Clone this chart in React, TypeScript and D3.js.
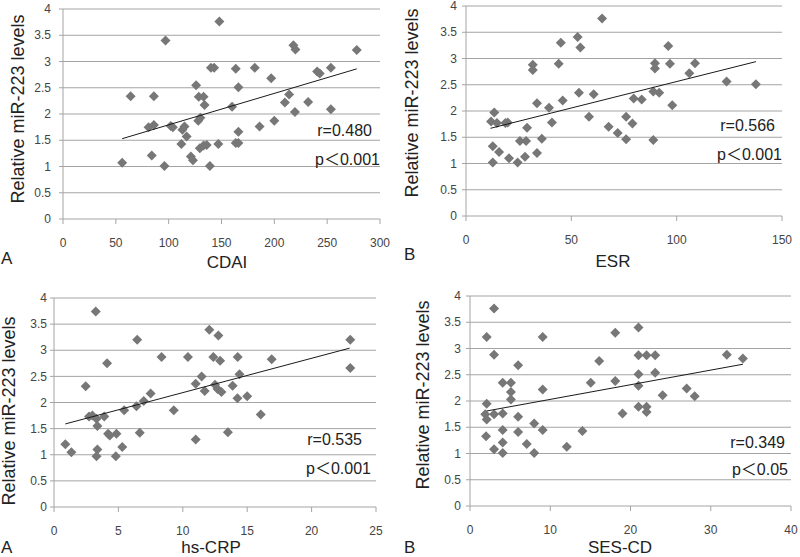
import React from "react";
import * as d3 from "d3";

// ---------- DATA ----------
const yTicks = [0, 0.5, 1, 1.5, 2, 2.5, 3, 3.5, 4];

const cdaiTicks = [0, 50, 100, 150, 200, 250, 300];
const cdaiX = [56, 64, 97, 148, 81, 86, 86, 84, 96, 102, 104, 113, 115, 112, 117, 121, 123, 126, 128.5, 133, 134, 128, 130, 129.5, 133, 136, 139, 140, 143, 147, 160, 163.5, 166, 163.5, 166, 166, 181.5, 186, 197, 200, 210, 214, 218, 220, 219.5, 232, 240.5, 243, 253.5, 253.5, 278];
const cdaiY = [1.07, 2.34, 3.40, 3.76, 1.75, 1.79, 2.34, 1.21, 1.01, 1.77, 1.75, 1.70, 1.76, 1.43, 1.57, 1.19, 1.12, 2.55, 2.33, 2.33, 2.17, 1.87, 1.93, 1.35, 1.40, 1.41, 1.01, 2.88, 2.88, 1.43, 2.14, 2.86, 2.51, 1.45, 1.45, 1.66, 2.88, 1.76, 2.68, 1.87, 2.22, 2.37, 3.31, 3.23, 2.04, 2.23, 2.81, 2.77, 2.09, 2.88, 3.22];
const cdaiTrend = [[56, 1.53], [278, 2.86]];

const esrTicks = [0, 50, 100, 150];
const esrX = [11.9, 13.4, 14.7, 12.7, 12.7, 15.7, 18.7, 19.8, 20.4, 24.5, 25.6, 28.5, 29, 28, 31.7, 31.7, 33.7, 33.7, 36, 39.4, 40.8, 44, 45, 45.9, 53, 54.3, 53.6, 58.4, 60.6, 64.6, 67.7, 72, 76, 76, 79, 79.6, 83.4, 88.9, 91.7, 89.7, 89.7, 88.9, 96, 96.8, 97.9, 106, 108.7, 123.7, 137.6];
const esrY = [1.80, 1.97, 1.77, 1.33, 1.02, 1.22, 1.77, 1.78, 1.10, 1.02, 1.43, 1.43, 1.68, 1.13, 2.88, 2.78, 2.15, 1.20, 1.47, 2.06, 1.78, 2.90, 3.30, 2.20, 3.41, 3.21, 2.35, 1.89, 2.32, 3.76, 1.70, 1.58, 1.89, 1.46, 1.76, 2.24, 2.22, 2.37, 2.35, 2.91, 2.81, 1.45, 3.24, 2.90, 2.11, 2.72, 2.91, 2.56, 2.51];
const esrTrend = [[11.6, 1.67], [137.6, 2.94]];

const crpTicks = [0, 5, 10, 15, 20, 25];
const crpX = [0.88, 1.35, 2.46, 3.24, 2.72, 2.98, 3.3, 3.37, 3.37, 3.3, 3.9, 4.12, 4.2, 4.33, 4.85, 4.8, 5.3, 5.45, 6.4, 6.46, 6.66, 6.97, 7.5, 8.35, 9.3, 10.4, 11.0, 11.0, 11.46, 11.7, 12.06, 12.37, 12.5, 12.76, 12.7, 12.9, 13.0, 13.5, 13.87, 14.26, 14.24, 14.4, 15.0, 16.05, 16.9, 23.0, 23.0];
const crpY = [1.20, 1.05, 2.31, 3.74, 1.73, 1.75, 1.69, 1.55, 1.10, 0.97, 1.73, 2.75, 1.40, 1.37, 1.40, 0.97, 1.15, 1.85, 1.93, 3.20, 1.42, 2.03, 2.17, 2.87, 1.85, 2.87, 1.29, 2.36, 2.50, 2.22, 3.39, 2.87, 2.34, 3.28, 2.26, 2.80, 2.20, 1.43, 2.32, 2.87, 2.08, 2.54, 2.12, 1.77, 2.83, 3.20, 2.66];
const crpTrend = [[0.88, 1.59], [22.95, 3.04]];

const sesTicks = [0, 10, 20, 30, 40];
const sesX = [2.08, 2.08, 1.9, 2.08, 2.0, 3.0, 3.0, 3.0, 3.0, 4.07, 4.07, 4.07, 4.07, 4.07, 5.1, 5.1, 5.1, 6.0, 6.0, 6.0, 7.07, 8.0, 8.0, 9.06, 9.06, 9.06, 12.06, 14.0, 15.05, 16.1, 18.1, 18.1, 19.0, 21.0, 21.0, 21.0, 21.0, 21.0, 22.0, 22.0, 22.0, 23.08, 23.08, 24.0, 27, 28, 32, 34];
const sesY = [3.22, 1.95, 1.75, 1.65, 1.33, 3.76, 2.88, 1.75, 1.08, 2.35, 1.76, 1.45, 1.21, 1.01, 2.35, 2.17, 2.03, 2.68, 1.70, 1.41, 1.18, 1.57, 1.01, 3.22, 2.22, 1.45, 1.13, 1.43, 2.35, 2.76, 3.30, 2.38, 1.76, 3.40, 2.87, 2.51, 2.29, 1.89, 2.87, 1.89, 1.79, 2.87, 2.54, 2.11, 2.24, 2.09, 2.88, 2.81];
const sesTrend = [[2.08, 1.81], [34, 2.70]];

const yTitle = "Relative miR-223 levels";

// ---------- LAYOUT ----------
type PanelCfg = {
  xs: number[]; ys: number[]; trend: number[][]; xTicks: number[];
  xTitle: string; letter: string; r: string; p: string;
  left: number; right: number; top: number; bottom: number;
  yGap: number; xTitleX: number; xTitleY: number; letterX: number; letterY: number;
  yTitleX: number; yTitleY: number;
  rX: number; rY: number; pX: number; pY: number;
};

const panels: PanelCfg[] = [
  { xs: cdaiX, ys: cdaiY, trend: cdaiTrend, xTicks: cdaiTicks, xTitle: "CDAI", letter: "A", r: "r=0.480", p: "p\uFF1C0.001",
    left: 63, right: 380, top: 9, bottom: 219, yGap: 12, xTitleX: 227, xTitleY: 268, letterX: 1, letterY: 264,
    yTitleX: 18, yTitleY: 109, rX: 372, rY: 136, pX: 380, pY: 165 },
  { xs: esrX, ys: esrY, trend: esrTrend, xTicks: esrTicks, xTitle: "ESR", letter: "B", r: "r=0.566", p: "p\uFF1C0.001",
    left: 466, right: 782, top: 6, bottom: 216, yGap: 9, xTitleX: 613, xTitleY: 267, letterX: 404, letterY: 260,
    yTitleX: 412, yTitleY: 103, rX: 775, rY: 131, pX: 782, pY: 160 },
  { xs: crpX, ys: crpY, trend: crpTrend, xTicks: crpTicks, xTitle: "hs-CRP", letter: "A", r: "r=0.535", p: "p\uFF1C0.001",
    left: 54, right: 376, top: 298, bottom: 507, yGap: 7, xTitleX: 211, xTitleY: 553, letterX: 1, letterY: 553,
    yTitleX: 9, yTitleY: 411, rX: 362, rY: 445, pX: 371, pY: 474 },
  { xs: sesX, ys: sesY, trend: sesTrend, xTicks: sesTicks, xTitle: "SES-CD", letter: "B", r: "r=0.349", p: "p\uFF1C0.05",
    left: 470, right: 791, top: 296, bottom: 506, yGap: 9, xTitleX: 620, xTitleY: 553, letterX: 404, letterY: 553,
    yTitleX: 423, yTitleY: 395, rX: 785, rY: 448, pX: 788, pY: 475 },
];

const FONT = "'Liberation Sans', Arial, 'Noto Sans CJK SC', sans-serif";
const GRID = "#a4a4a4";
const MARK = "#777777";
const H = 5;

function Panel({ c }: { c: PanelCfg }) {
  const x = d3.scaleLinear().domain([0, c.xTicks[c.xTicks.length - 1]]).range([c.left, c.right]);
  const y = d3.scaleLinear().domain([0, yTicks[yTicks.length - 1]]).range([c.bottom, c.top]);
  const line = d3.line<number[]>().x((d) => x(d[0])).y((d) => y(d[1]));
  return (
    <g>
      {yTicks.map((t) => (
        <g key={"y" + t}>
          <line x1={c.left - 4} x2={c.right} y1={y(t)} y2={y(t)} stroke={GRID} strokeWidth={1} />
          <text x={c.left - c.yGap} y={y(t)} dy="0.35em" textAnchor="end" fontSize={12} fill="#444">{String(t)}</text>
        </g>
      ))}
      <line x1={c.left} x2={c.left} y1={c.top} y2={c.bottom} stroke={GRID} strokeWidth={1} />
      {c.xTicks.map((t) => (
        <g key={"x" + t}>
          <line x1={x(t)} x2={x(t)} y1={c.bottom} y2={c.bottom + 5} stroke={GRID} strokeWidth={1} />
          <text x={x(t)} y={c.bottom + 28} textAnchor="middle" fontSize={12} fill="#444">{String(t)}</text>
        </g>
      ))}
      {c.xs.map((xv, i) => {
        const px = x(xv), py = y(c.ys[i]);
        return <path key={"p" + i} d={`M${px},${py - H}L${px + H},${py}L${px},${py + H}L${px - H},${py}Z`} fill={MARK} />;
      })}
      <path d={line(c.trend) || ""} stroke="#1a1a1a" strokeWidth={1} fill="none" />
      <text x={c.rX} y={c.rY} textAnchor="end" fontSize={16} fill="#222">{c.r}</text>
      <text x={c.pX} y={c.pY} textAnchor="end" fontSize={16} fill="#222">{c.p}</text>
      <text x={c.xTitleX} y={c.xTitleY} textAnchor="middle" fontSize={17} fill="#222">{c.xTitle}</text>
      <text x={c.letterX} y={c.letterY} fontSize={17} fill="#222">{c.letter}</text>
      <text transform={`translate(${c.yTitleX},${c.yTitleY}) rotate(-90)`} textAnchor="middle" dominantBaseline="central" fontSize={18} fill="#222">{yTitle}</text>
    </g>
  );
}

export default function App() {
  return (
    <svg width={800} height={557} style={{ position: "absolute", left: 0, top: 0, background: "#fff" }} fontFamily={FONT}>
      <rect width={800} height={557} fill="#fff" />
      {panels.map((c, i) => <Panel key={i} c={c} />)}
    </svg>
  );
}
